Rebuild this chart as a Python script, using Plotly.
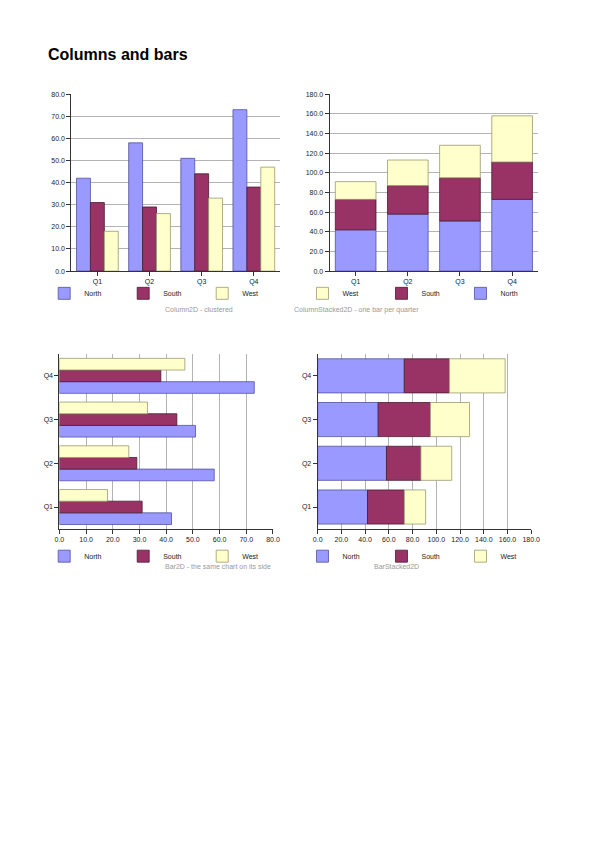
import plotly.graph_objects as go

quarters = ["Q1", "Q2", "Q3", "Q4"]
north = [42, 58, 51, 73]
south = [31, 29, 44, 38]
west = [18, 26, 33, 47]

colors = {"North": "#9999ff", "South": "#993366", "West": "#ffffcc"}
lines = {"North": "#5050a0", "South": "#4a1a30", "West": "#999970"}
series = [("North", north), ("South", south), ("West", west)]

W, H = 595, 842
def fx(p): return ((p - 16.3) / 0.983) / W
def fy(p): return 1 - ((p - 11.7) / 0.981) / H

fig = go.Figure()
axes = [("x", "y", "legend"), ("x2", "y2", "legend2"), ("x3", "y3", "legend3"), ("x4", "y4", "legend4")]
for i, (xa, ya, lg) in enumerate(axes):
    for name, vals in series:
        kw = dict(name=name, marker=dict(color=colors[name], line=dict(color=lines[name], width=0.8)),
                  xaxis=xa, yaxis=ya, legend=lg, hoverinfo="skip")
        if i in (2, 3):
            fig.add_trace(go.Bar(y=quarters, x=vals, orientation="h", **kw))
        else:
            fig.add_trace(go.Bar(x=quarters, y=vals, **kw))

for t in fig.data:
    if t.xaxis in ("x2", "x4"):
        t.offsetgroup = "s" + t.xaxis
        t.width = 0.78
        if t.name == "North":
            t.base = [0] * 4
        elif t.name == "South":
            t.base = north[:]
        else:
            t.base = [n + s for n, s in zip(north, south)]
fig.update_layout(barmode="group", bargap=0.2, bargroupgap=0)

font = dict(family="Liberation Sans, Arial, sans-serif", size=7, color="#222")
common = dict(showline=True, linecolor="#333", linewidth=1, ticks="outside", ticklen=4,
              tickcolor="#333", tickfont=font, zeroline=False, fixedrange=True)

fig.update_layout(
    width=W, height=H, margin=dict(l=0, r=0, t=0, b=0),
    paper_bgcolor="white", plot_bgcolor="white", font=font,
    xaxis=dict(domain=[fx(75), fx(285)], anchor="y", showgrid=False, **common),
    yaxis=dict(domain=[fy(268), fy(93)], anchor="x", range=[0, 80], dtick=10, tickformat=".1f",
               showgrid=True, gridcolor="#b3b3b3", **common),
    xaxis2=dict(domain=[fx(335), fx(545)], anchor="y2", showgrid=False, **common),
    yaxis2=dict(domain=[fy(268), fy(93)], anchor="x2", range=[0, 180], dtick=20, tickformat=".1f",
                showgrid=True, gridcolor="#b3b3b3", **common),
    xaxis3=dict(domain=[fx(63), fx(278)], anchor="y3", range=[0, 80], dtick=10, tickformat=".1f",
                showgrid=True, gridcolor="#b3b3b3", **common),
    yaxis3=dict(domain=[fy(523), fy(350)], anchor="x3", showgrid=False, **common),
    xaxis4=dict(domain=[fx(323), fx(538)], anchor="y4", range=[0, 180], dtick=20, tickformat=".1f",
                showgrid=True, gridcolor="#b3b3b3", **common),
    yaxis4=dict(domain=[fy(523), fy(350)], anchor="x4", showgrid=False, **common),
    showlegend=True,
)
leg = dict(orientation="h", xanchor="center", yanchor="middle", font=font,
           itemwidth=30, entrywidth=34, entrywidthmode="pixels",
           bgcolor="rgba(0,0,0,0)", traceorder="normal")
fig.update_layout(
    legend=dict(x=fx(167), y=fy(290), **leg),
    legend2=dict(x=fx(427), y=fy(290), **{**leg, "traceorder": "reversed"}),
    legend3=dict(x=fx(167), y=fy(550), **leg),
    legend4=dict(x=fx(427), y=fy(550), **leg),
)
cap = dict(family="Liberation Sans, Arial, sans-serif", size=7, color="#999999")
for x, y, txt in [(167, 306, "Column2D - clustered"), (427, 306, "ColumnStacked2D - one bar per quarter"),
                  (167, 566, "Bar2D - the same chart on its side"), (427, 566, "BarStacked2D")]:
    fig.add_annotation(x=fx(x), y=fy(y), xref="paper", yref="paper", text=txt, showarrow=False, font=cap)
fig.add_annotation(x=fx(50), y=fy(54), xref="paper", yref="paper", xanchor="left", yanchor="middle",
                   text="<b>Columns and bars</b>", showarrow=False,
                   font=dict(family="Liberation Sans, Arial, sans-serif", size=16, color="black"))
fig.write_html("out.html")
